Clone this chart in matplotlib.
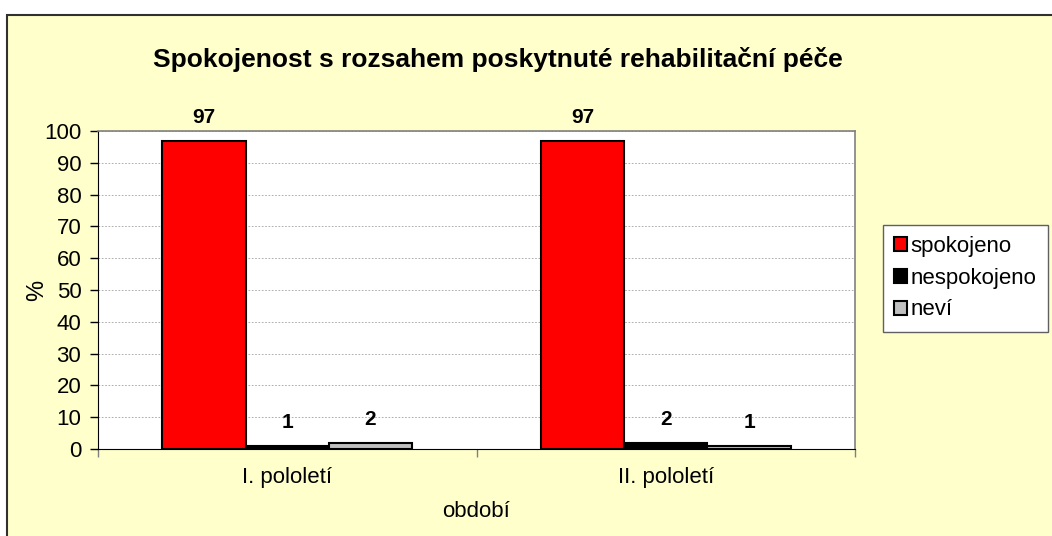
import matplotlib
matplotlib.use("Agg")
import matplotlib.pyplot as plt
import numpy as np
from matplotlib.patches import Rectangle

categories = ["I. pololetí", "II. pololetí"]
series_names = ["spokojeno", "nespokojeno", "neví"]
spokojeno = [97, 97]
nespokojeno = [1, 2]
nevi = [2, 1]
series_values = [spokojeno, nespokojeno, nevi]
colors = ["#FF0000", "#000000", "#C0C0C0"]
yticks = list(range(0, 101, 10))

plt.rcParams['font.family'] = ['Liberation Sans', 'DejaVu Sans']

W, H = 1052, 536
fig = plt.figure(figsize=(W / 100, H / 100), dpi=100)
fig.patch.set_facecolor("white")
bg = Rectangle((7 / W, -0.05), 1.1, 1 - 15 / H + 0.05, transform=fig.transFigure,
               facecolor="#FFFFCC", edgecolor="#303030", linewidth=1.5, zorder=-10)
fig.add_artist(bg)

ax = fig.add_axes([98 / W, 1 - 449 / H, (855 - 98) / W, (449 - 131) / H])
ax.set_zorder(1)
ax.set_facecolor("white")

x = np.arange(len(categories))
w = 0.22
offsets = [-w, 0, w]
for vals, name, col, off in zip(series_values, series_names, colors, offsets):
    ax.bar(x + off, vals, width=w, color=col, edgecolor="black", linewidth=1.5,
           label=name, zorder=3)
    for xi, v in zip(x + off, vals):
        ax.annotate(str(v), (xi, v), xytext=(0, 10), textcoords="offset points",
                    ha="center", va="bottom", fontsize=15, fontweight="bold",
                    annotation_clip=False)

ax.set_xlim(-0.5, 1.5)
ax.set_ylim(0, 100)
ax.set_yticks(yticks)
ax.tick_params(axis="y", labelsize=16, direction="out", length=6, width=1, pad=6)
ax.set_xticks([-0.5, 0.5, 1.5])
ax.set_xticklabels([])
ax.set_xticks(x, minor=True)
ax.set_xticklabels(categories, minor=True)
ax.tick_params(axis="x", which="major", direction="out", length=6, width=1, color="#808080")
ax.tick_params(axis="x", which="minor", length=0, labelsize=16, pad=13)
ax.yaxis.grid(True, linestyle=(0, (2, 2)), color="#A0A0A0", linewidth=0.6, zorder=0)
for s in ["top", "right"]:
    ax.spines[s].set_color("#808080")
    ax.spines[s].set_linewidth(1.2)
ax.spines["left"].set_color("black")
ax.spines["bottom"].set_color("black")

ax.set_ylabel("%", fontsize=17, labelpad=-3)
ax.set_xlabel("období", fontsize=16, labelpad=9)

fig.text(498 / W, 1 - 59 / H, "Spokojenost s rozsahem poskytnuté rehabilitační péče",
         ha="center", va="center", fontsize=19, fontweight="bold")

leg = fig.legend(loc="upper left", bbox_to_anchor=(883 / W, 1 - 225 / H), fontsize=16,
                 frameon=True, fancybox=False, edgecolor="#606060", framealpha=1,
                 handlelength=0.6, handleheight=0.6, handletextpad=0.15,
                 labelspacing=0.48, borderpad=0.5, borderaxespad=0)
leg.set_zorder(5)
leg.get_frame().set_linewidth(1.0)
leg.get_frame().set_facecolor("white")
for p in leg.get_patches():
    p.set_linewidth(1.5)

fig.savefig("out.png", dpi=100, facecolor=fig.get_facecolor())
